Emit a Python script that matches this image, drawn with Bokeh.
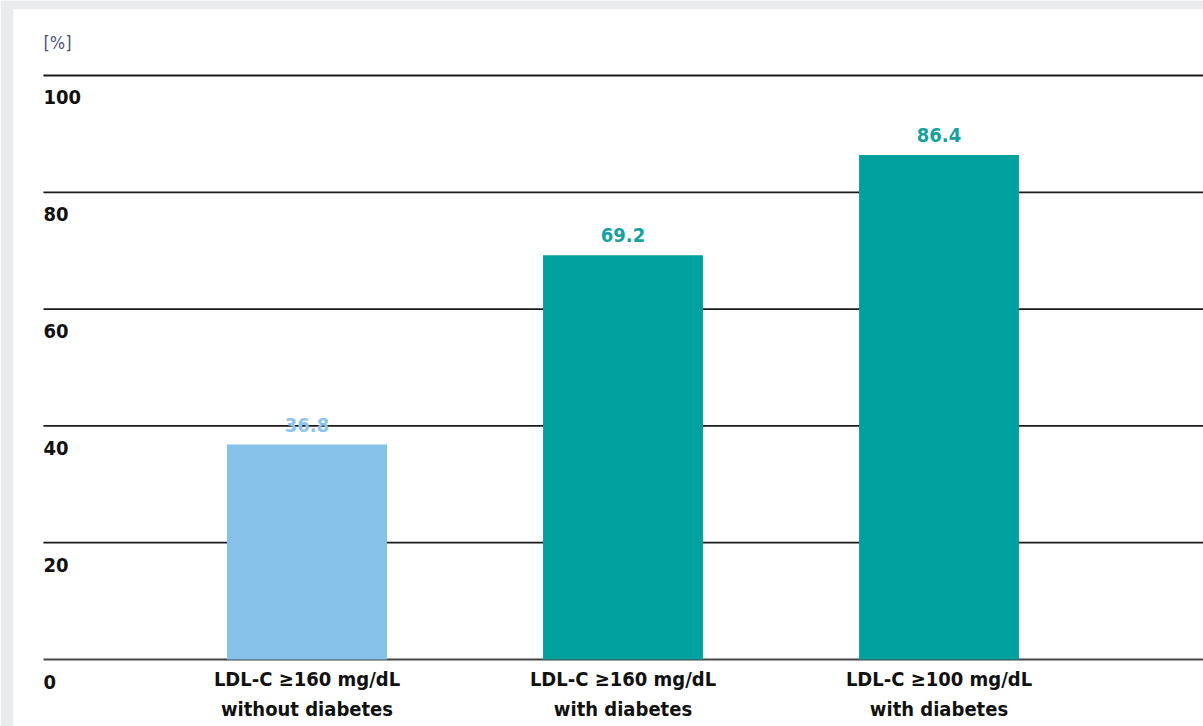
from bokeh.plotting import figure
from bokeh.models import Range1d, ColumnDataSource
from bokeh.core.properties import value
from bokeh.embed import file_html
from bokeh.resources import INLINE

# --- data -----------------------------------------------------------------
categories = [
    "LDL-C \u2265160 mg/dL\nwithout diabetes",
    "LDL-C \u2265160 mg/dL\nwith diabetes",
    "LDL-C \u2265100 mg/dL\nwith diabetes",
]
percentages = [36.8, 69.2, 86.4]
bar_colors = ["#85c1e9", "#00a19f", "#00a19f"]
value_label_colors = ["#8cc4ea", "#17a0a0", "#17a0a0"]
y_ticks = [0, 20, 40, 60, 80, 100]
y_tick_labels = ["0", "20", "40", "60", "80", "100"]
unit_label = "[%]"

FONT = value("DejaVu Sans Condensed")

# --- figure ---------------------------------------------------------------
positions = list(range(len(categories)))
x_start, x_end = -0.9288, 2.837
grid_left = -0.834

p = figure(
    width=1203, height=726,
    x_range=Range1d(x_start, x_end),
    y_range=Range1d(-11.47, 111.30),
    output_backend="svg", toolbar_location=None,
    min_border_left=13, min_border_top=9,
    min_border_right=0, min_border_bottom=0,
    border_fill_color="#e9ebee", background_fill_color="white",
    outline_line_color=None,
)
p.xaxis.visible = False
p.yaxis.visible = False
p.xgrid.visible = False
p.ygrid.visible = False

# horizontal reference lines at each tick
grid_src = ColumnDataSource(dict(
    x0=[grid_left] * len(y_ticks), x1=[x_end] * len(y_ticks),
    y=y_ticks, label=y_tick_labels,
    color=["#444444"] + ["#1a1a1a"] * (len(y_ticks) - 1),
))
p.segment(x0="x0", y0="y", x1="x1", y1="y", source=grid_src,
          line_color="color", line_width=1.8)

# tick labels sit just below their line, left aligned
p.text(x=grid_left, y="y", text="label", source=grid_src,
       text_font=FONT, text_font_style="bold", text_font_size="20px",
       text_color="#111111", text_align="left", text_baseline="middle",
       y_offset=22)

# unit label above the top line
p.text(x=[grid_left], y=[y_ticks[-1]], text=[unit_label],
       text_font=FONT, text_font_size="18px", text_color="#4b5373",
       text_align="left", text_baseline="middle", y_offset=-33)

# bars
bar_src = ColumnDataSource(dict(
    x=positions, top=percentages, color=bar_colors,
    vcolor=value_label_colors,
    vtext=[f"{v:.1f}" for v in percentages],
    cat=categories, base=[0] * len(categories),
))
p.vbar(x="x", top="top", width=0.506, bottom=0, source=bar_src,
       fill_color="color", line_color=None)

# value labels above each bar
p.text(x="x", y="top", text="vtext", source=bar_src,
       text_font=FONT, text_font_style="bold", text_font_size="20px",
       text_color="vcolor", text_align="center", text_baseline="middle",
       y_offset=-20)

# category labels under the baseline
p.text(x="x", y="base", text="cat", source=bar_src,
       text_font=FONT, text_font_style="bold", text_font_size="20px",
       text_color="#111111", text_align="center", text_baseline="top",
       text_line_height=1.27, y_offset=7)

open("out.html", "w").write(file_html(p, INLINE))
